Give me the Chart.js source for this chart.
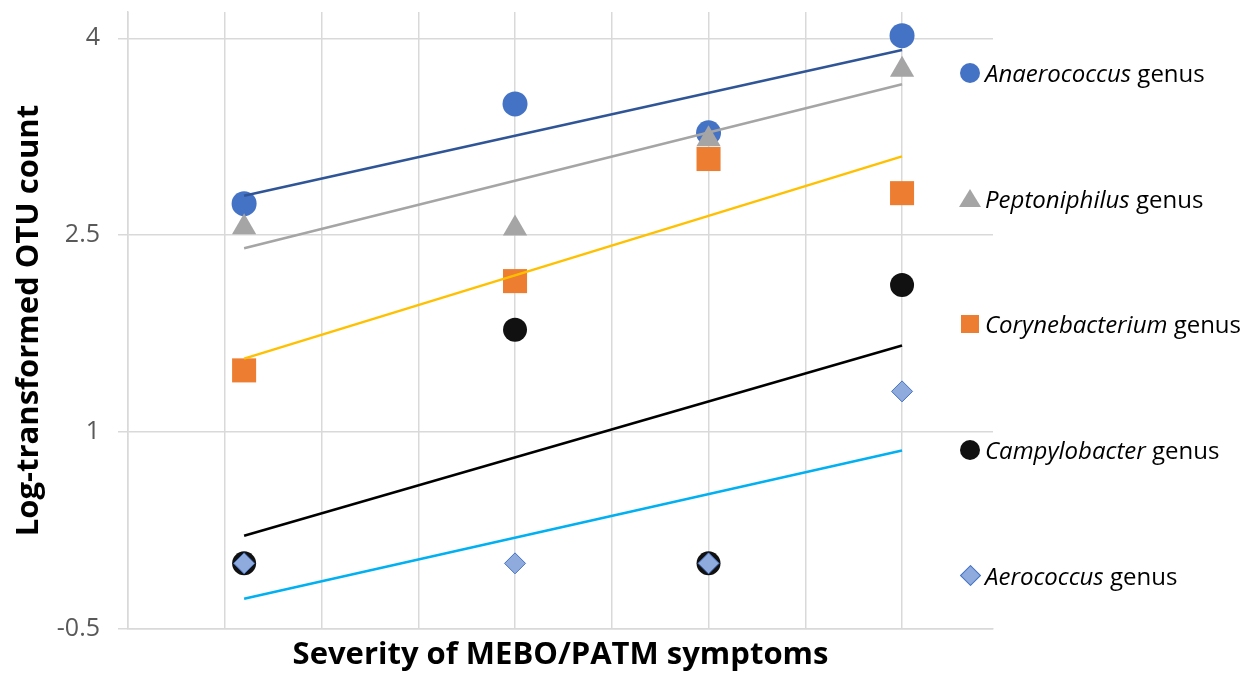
<!DOCTYPE html>
<html>
<head>
<meta charset="utf-8">
<script src="https://cdn.jsdelivr.net/npm/chart.js@4.4.1/dist/chart.umd.min.js"></script>
<style>
  body { margin: 0; background: #fff; }
  #wrap { position: relative; width: 1251px; height: 677px; }
  #legend { position: absolute; left: 958px; top: 10px; height: 628px; display: flex; flex-direction: column; }
  .item { height: 125.6px; display: flex; align-items: center; font-family: "Open Sans", sans-serif; font-size: 24px; color: #000; white-space: pre; }
  .mark { width: 24px; height: 24px; margin-right: 3px; position: relative; }
  .circle { position: absolute; left: 2px; top: 2px; width: 20px; height: 20px; border-radius: 50%; }
  .square { position: absolute; left: 3px; top: 3px; width: 18px; height: 18px; }
  .triangle { position: absolute; left: 1px; top: 3px; width: 0; height: 0; border-left: 11px solid transparent; border-right: 11px solid transparent; border-bottom: 18px solid #A5A5A5; }
  .diamond { position: absolute; left: 5px; top: 5px; width: 13px; height: 13px; transform: rotate(45deg); background: #8FAADC; border: 1px solid #4472C4; }
</style>
</head>
<body>
<div id="wrap">
  <canvas id="myChart" width="1251" height="677"></canvas>
  <div id="legend"></div>
</div>
<script>
/* ~~~~~~~~~~ DATA ~~~~~~~~~~*/

const severity = [1.2, 4, 6, 8];
const genusNames = ['Anaerococcus', 'Peptoniphilus', 'Corynebacterium', 'Campylobacter', 'Aerococcus'];

const anaerococcus = [2.74, 3.50, 3.28, 4.02];
const peptoniphilus = [2.56, 2.55, 3.23, 3.76];
const corynebacterium = [1.47, 2.15, 3.08, 2.82];
const campylobacter = [0, 1.78, 0, 2.12];
const aerococcus = [0, 0, 0, 1.31];

// trend lines at first and last severity
const trendX = [1.2, 8];
const anaerococcusTrend = [2.80, 3.91];
const peptoniphilusTrend = [2.40, 3.65];
const corynebacteriumTrend = [1.56, 3.10];
const campylobacterTrend = [0.21, 1.66];
const aerococcusTrend = [-0.27, 0.86];

const yTicks = [-0.5, 1, 2.5, 4];
const xGrid = [0, 1, 2, 3, 4, 5, 6, 7, 8];

/* ~~~~~~~~~~ DATASETS ~~~~~~~~~~*/

const toPoints = (xs, ys) => xs.map((x, i) => ({ x: x, y: ys[i] }));

const markerSets = [
  { values: anaerococcus, style: 'circle', radius: 12.5, fill: '#4472C4', border: '#4472C4', width: 0 },
  { values: peptoniphilus, style: 'triangle', radius: 14, fill: '#A5A5A5', border: '#A5A5A5', width: 0 },
  { values: corynebacterium, style: 'rect', radius: 17, fill: '#ED7D31', border: '#ED7D31', width: 0 },
  { values: campylobacter, style: 'circle', radius: 12, fill: '#111111', border: '#111111', width: 0 },
  { values: aerococcus, style: 'rectRot', radius: 10.5, fill: '#8FAADC', border: '#4472C4', width: 1 },
];

const trendSets = [
  { values: anaerococcusTrend, color: '#2F5597' },
  { values: peptoniphilusTrend, color: '#A5A5A5' },
  { values: corynebacteriumTrend, color: '#FFC000' },
  { values: campylobacterTrend, color: '#000000' },
  { values: aerococcusTrend, color: '#00B0F0' },
];

let datasets = [];
markerSets.forEach((m, i) => {
  datasets.push({
    label: genusNames[i],
    data: toPoints(severity, m.values),
    pointStyle: m.style,
    pointRadius: m.radius,
    pointBackgroundColor: m.fill,
    pointBorderColor: m.border,
    pointBorderWidth: m.width,
    order: markerSets.length - i + 1,
  });
});
trendSets.forEach((t, i) => {
  datasets.push({
    label: genusNames[i] + ' trend',
    data: toPoints(trendX, t.values),
    showLine: true,
    pointRadius: 0,
    borderColor: t.color,
    borderWidth: 2.5,
    order: 0,
  });
});

/* ~~~~~~~~~~ CHART ~~~~~~~~~~*/

const gridColor = '#D9D9D9';
const titleFont = { family: '"Open Sans", sans-serif', size: 31, weight: 'bold', lineHeight: 1.2 };

// drop the space chart.js keeps for half tick labels at the ends
const noEdgePadding = (scale) => {
  scale.paddingTop = 0;
  scale.paddingBottom = 0;
  scale.paddingLeft = 0;
  scale.paddingRight = 0;
};

let chartContext = document.getElementById('myChart').getContext('2d');

let otuChart = new Chart(chartContext, {
  type: 'scatter',
  data: { datasets: datasets },
  options: {
    responsive: false,
    animation: false,
    layout: { autoPadding: false, padding: { top: 12, right: 258, left: 0, bottom: 0 } },
    plugins: {
      legend: { display: false },
      tooltip: { enabled: false },
    },
    scales: {
      x: {
        type: 'linear',
        min: 0,
        max: 8.94,
        afterBuildTicks: (scale) => { scale.ticks = xGrid.map((v) => ({ value: v })); },
        afterFit: (scale) => { scale.height = 48; noEdgePadding(scale); },
        ticks: { display: false },
        grid: { color: gridColor, lineWidth: 1.5, drawTicks: false },
        border: { color: gridColor, width: 1.5 },
        title: {
          display: true,
          text: 'Severity of MEBO/PATM symptoms',
          color: '#000',
          font: titleFont,
          padding: { top: 0, bottom: 3 },
        },
      },
      y: {
        min: -0.5,
        max: 4.2,
        afterBuildTicks: (scale) => { scale.ticks = yTicks.map((v) => ({ value: v })); },
        afterFit: (scale) => { scale.width = 128; noEdgePadding(scale); },
        ticks: {
          color: '#595959',
          font: { family: '"Open Sans", sans-serif', size: 25 },
          padding: 18,
          callback: (v) => String(v),
        },
        grid: { color: gridColor, lineWidth: 1.5, tickLength: 10 },
        border: { color: gridColor, width: 1.5 },
        title: {
          display: true,
          text: 'Log-transformed OTU count',
          color: '#000',
          font: titleFont,
          padding: { top: 11, bottom: 0 },
        },
      },
    },
  },
});

/* ~~~~~~~~~~ LEGEND ~~~~~~~~~~*/

const legendMarks = [
  '<div class="circle" style="background:#4472C4"></div>',
  '<div class="triangle"></div>',
  '<div class="square" style="background:#ED7D31"></div>',
  '<div class="circle" style="background:#111111"></div>',
  '<div class="diamond"></div>',
];

document.getElementById('legend').innerHTML = genusNames
  .map((name, i) => `<div class="item"><div class="mark">${legendMarks[i]}</div><i>${name}</i> genus</div>`)
  .join('');
</script>
</body>
</html>
